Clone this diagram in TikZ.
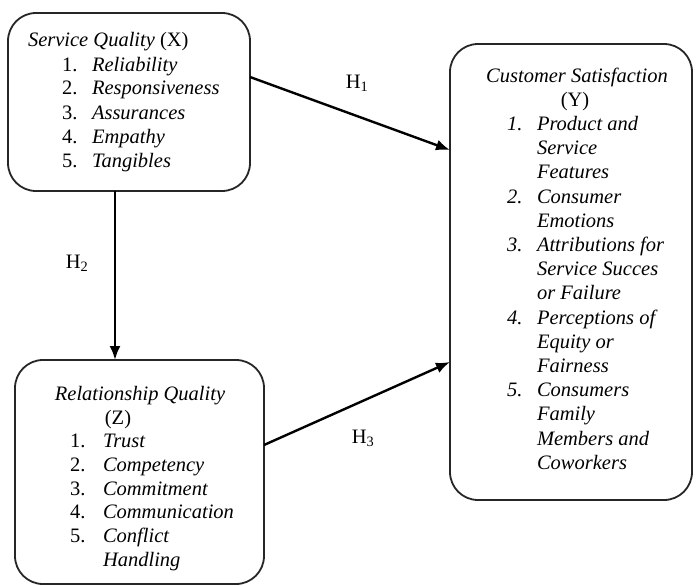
\documentclass[tikz,border=0pt]{standalone}
\usepackage{fontspec}
\setmainfont{Liberation Serif}
\usetikzlibrary{arrows.meta}
\tikzset{
  box/.style={draw=black!85, line width=1.8pt, rounded corners=28pt, inner sep=0pt, outer sep=0pt},
  txt/.style={inner sep=0pt, outer sep=0pt, font=\fontsize{20.5}{24}\selectfont, text=black},
  lbl/.style={inner sep=0pt, font=\fontsize{20.5}{24}\selectfont},
  arr/.style={line width=2.4pt, -{Latex[length=14pt,width=11pt]}},
}
\begin{document}
\begin{tikzpicture}[x=1pt,y=-1pt]
\useasboundingbox[fill=white] (0,0) rectangle (696,586);
% boxes
\node[box, minimum width=242pt, minimum height=178pt] (X) at (129,102) {};
\node[box, minimum width=242pt, minimum height=456pt] (Y) at (571,272) {};
\node[box, minimum width=249pt, minimum height=224pt] (Z) at (139.5,472) {};
% X text
\node[txt, anchor=base west] (xt) at (28,47) {\textit{Service Quality} (X)};
\foreach \t [count=\i] in {Reliability,Responsiveness,Assurances,Empathy,Tangibles}{
  \node[txt, anchor=base west] (xn\i) at (62,{47+24*\i}) {\i.};
  \node[txt, anchor=base west] (xi\i) at (92,{47+24*\i}) {\textit{\t}};
}
% Z text
\node[txt, anchor=base] (zt) at (140,400) {\textit{Relationship Quality}};
\node[txt, anchor=base] (zt2) at (118,424) {(Z)};
\foreach \n/\t/\j in {1/Trust/1,2/Competency/2,3/Commitment/3,4/Communication/4,5/Conflict/5}{
  \node[txt, anchor=base west] (zn\j) at (70,{424+23.7*\j}) {\n.};
  \node[txt, anchor=base west] (zi\j) at (103,{424+23.7*\j}) {\textit{\t}};
}
\node[txt, anchor=base west] (zi6) at (103,{424+23.7*6}) {\textit{Handling}};
% Y text
\node[txt, anchor=base] (yt) at (577,82) {\textit{Customer Satisfaction}};
\node[txt, anchor=base] (yt2) at (575,106.2) {(Y)};
\foreach \n/\t/\j in {1./Product and/2,/Service/3,/Features/4,2./Consumer/5,/Emotions/6,3./Attributions for/7,/Service Succes/8,/or Failure/9,4./Perceptions of/10,/Equity or/11,/Fairness/12,5./Consumers/13,/Family/14,/Members and/15,/Coworkers/16}{
  \node[txt, anchor=base west] (yn\j) at (507,{82+24.2*\j}) {\textit{\n}};
  \node[txt, anchor=base west] (yi\j) at (537,{82+24.2*\j}) {\textit{\t}};
}
% arrows
\draw[arr] ([yshift=25pt]X.east) -- ([yshift=122pt]Y.west);
\draw[arr] ([xshift=-14pt]X.south) -- ([xshift=-24.5pt]Z.north);
\draw[arr] ([yshift=27pt]Z.east) -- ([yshift=-90pt]Y.west);
% labels
\node[lbl] (h1) at (357,83) {H\textsubscript{1}};
\node[lbl] (h2) at (77,263) {H\textsubscript{2}};
\node[lbl] (h3) at (363,438) {H\textsubscript{3}};
\end{tikzpicture}
\end{document}
